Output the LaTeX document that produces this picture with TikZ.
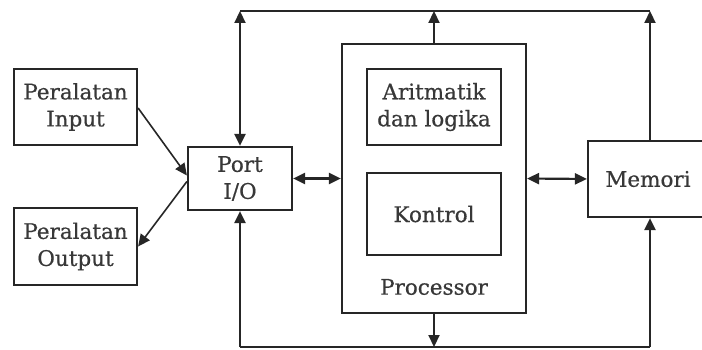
\documentclass[tikz,border=0pt]{standalone}
\usepackage{fontspec}
\setmainfont{DejaVu Serif}
\newfontfamily\diafont{DejaVu Serif}[FakeBold=0.6]
\usetikzlibrary{arrows.meta,calc}
\begin{document}
\begin{tikzpicture}[x=1pt,y=-1pt,
  box/.style={draw=black!85,line width=2.2pt,rectangle,inner sep=0pt,align=center,font=\diafont\fontsize{21.5}{27}\selectfont,text=black!78},
  lbl/.style={font=\diafont\fontsize{21.5}{27}\selectfont,text=black!78},
  conn/.style={line width=2.2pt,draw=black!85},
  tip/.style={-{Triangle[length=12pt,width=11pt]}},
  btip/.style={{Triangle[length=12pt,width=11pt]}-{Triangle[length=12pt,width=11pt]}}]
\useasboundingbox (0,0) rectangle (702,350);
\clip (0,0) rectangle (702,351);
\node[box,minimum width=123pt,minimum height=76pt] (inp) at (75.5,107) {Peralatan\\Input};
\node[box,minimum width=123pt,minimum height=77pt] (outp) at (75.5,246.5) {Peralatan\\Output};
\node[box,minimum width=104pt,minimum height=63pt] (port) at (240,178.5) {Port\\I/O};
\node[box,minimum width=184pt,minimum height=269pt] (proc) at (434,178.5) {};
\node[box,minimum width=134pt,minimum height=76pt] (alu) at (434,107) {Aritmatik\\dan logika};
\node[box,minimum width=134pt,minimum height=82pt] (ctl) at (434,214) {Kontrol};
\node[lbl] (plabel) at (434,287) {Processor};
\node[box,minimum width=124pt,minimum height=76pt] (mem) at (650,179) {};
\node[lbl] (memt) at (648,179) {Memori};
\coordinate (tl) at (240,11);
\coordinate (tr) at (650,11);
\coordinate (bl) at (240,347);
\coordinate (br) at (650,347);
\coordinate (tm) at (434,11);
\coordinate (bm) at (434,347);
\draw[conn] (tl) -- (tr);
\draw[conn] (bl) -- (br);
\draw[conn,btip] (tl) -- (port.north);
\draw[conn,tip] (proc.north) -- (tm);
\draw[conn,tip] (mem.north) -- (tr);
\draw[conn,tip] (bl) -- (port.south);
\draw[conn,tip] (proc.south) -- (bm);
\draw[conn,tip] (br) -- (mem.south);
\draw[conn,btip] (port.east) -- (proc.west);
\draw[conn,btip] (proc.east) -- (mem.west);
\draw[conn,tip,line width=1.6pt] ($(inp.east)+(0,1)$) -- ($(port.west)+(0,-3)$);
\draw[conn,tip,line width=1.6pt] ($(port.west)+(0,3)$) -- (outp.east);
\end{tikzpicture}
\end{document}
